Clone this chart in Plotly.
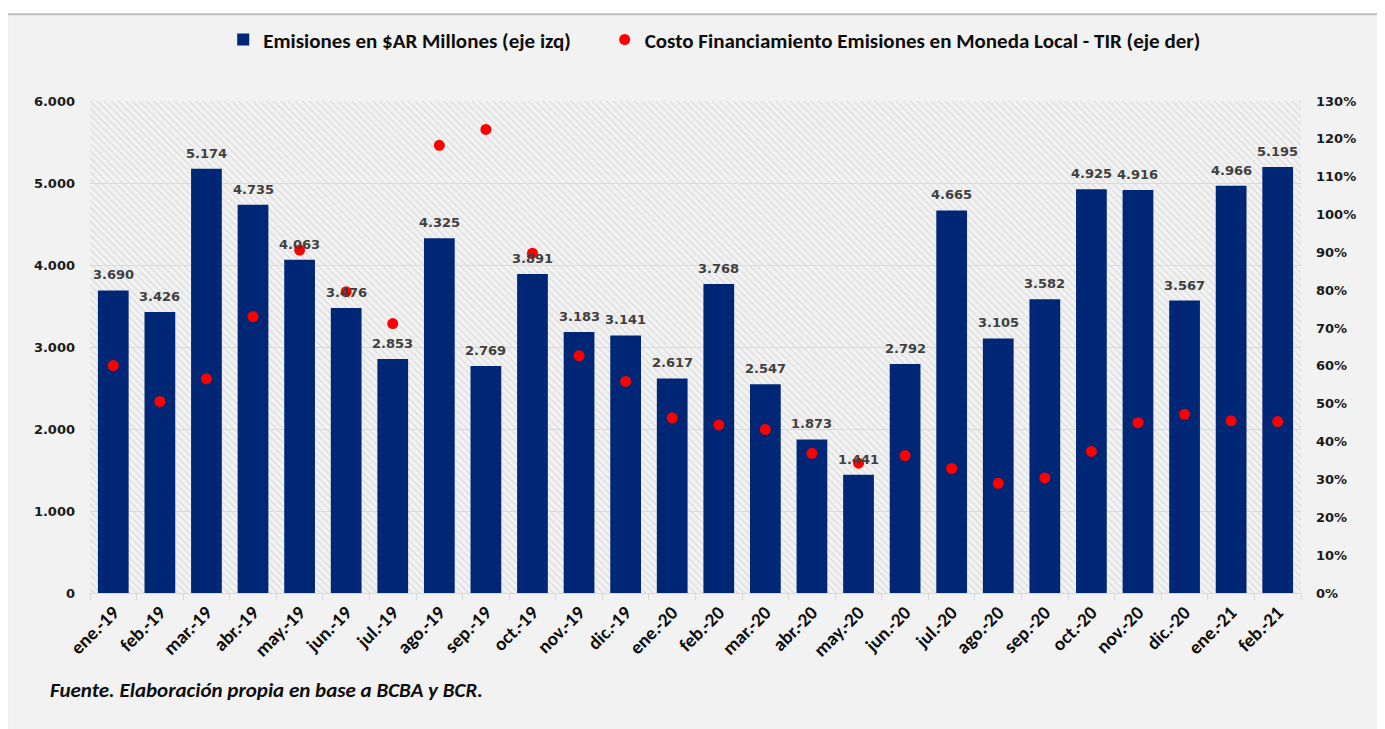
import plotly.graph_objects as go

# ---------------- data ----------------
months = ["ene.-19", "feb.-19", "mar.-19", "abr.-19", "may.-19", "jun.-19", "jul.-19",
          "ago.-19", "sep.-19", "oct.-19", "nov.-19", "dic.-19", "ene.-20", "feb.-20",
          "mar.-20", "abr.-20", "may.-20", "jun.-20", "jul.-20", "ago.-20", "sep.-20",
          "oct.-20", "nov.-20", "dic.-20", "ene.-21", "feb.-21"]
emisiones = [3690, 3426, 5174, 4735, 4063, 3476, 2853, 4325, 2769, 3891, 3183, 3141, 2617,
             3768, 2547, 1873, 1441, 2792, 4665, 3105, 3582, 4925, 4916, 3567, 4966, 5195]
tir_pct = [60.1, 50.6, 56.6, 73.0, 90.6, 79.6, 71.2, 118.3, 122.5, 89.8, 62.7, 55.9, 46.3,
           44.4, 43.2, 36.9, 34.3, 36.3, 32.9, 29.0, 30.4, 37.4, 45.0, 47.2, 45.5, 45.3]
left_ticks = [0, 1000, 2000, 3000, 4000, 5000, 6000]
left_ticktext = ["0", "1.000", "2.000", "3.000", "4.000", "5.000", "6.000"]
right_ticks = [i / 100 for i in range(0, 131, 10)]

name_bar = "Emisiones en $AR Millones (eje izq)"
name_dot = "Costo Financiamiento Emisiones en Moneda Local - TIR (eje der)"
footnote = "Fuente. Elaboración propia en base a BCBA y BCR."

# ---------------- styles ----------------
NAVY = "#002776"
RED = "#FF0000"
CAL = "Carlito, 'Liberation Sans Narrow', 'Open Sans', sans-serif"
VER = "'DejaVu Sans', Verdana, sans-serif"

n = len(months)
xs = list(range(n))
tir = [v / 100 for v in tir_pct]
labels = [f"{v:,}".replace(",", ".") for v in emisiones]

fig = go.Figure()

# hatched plot-area background (as a full-width bar)
fig.add_trace(go.Bar(
    x=[(n - 1) / 2], y=[left_ticks[-1]], width=[n],
    marker=dict(color="rgba(0,0,0,0)", line=dict(width=0),
                pattern=dict(shape="\\", fillmode="replace", fgcolor="#dcdcdc",
                             bgcolor="rgba(0,0,0,0)", size=5, solidity=0.25)),
    showlegend=False, hoverinfo="skip",
))

fig.add_trace(go.Bar(
    x=xs, y=emisiones, width=0.66, name=name_bar, legend="legend",
    marker=dict(color=NAVY, line=dict(width=0)),
))

fig.add_trace(go.Scatter(
    x=xs, y=tir, yaxis="y2", mode="markers", name=name_dot, legend="legend2",
    marker=dict(color=RED, size=11, symbol="circle"),
    cliponaxis=False,
))

# value labels above the bars
annotations = [dict(x=x, y=v, xref="x", yref="y", text=t, showarrow=False,
                    yanchor="bottom", yshift=6,
                    font=dict(family=VER, size=13, color="#404040", weight="bold"))
               for x, v, t in zip(xs, emisiones, labels)]

annotations.append(dict(text=footnote, xref="paper", yref="paper", x=-0.0347, y=-0.1968,
                        xanchor="left", yanchor="middle", showarrow=False,
                        font=dict(family=CAL, size=21, color="#0d0d0d", weight="bold",
                                  style="italic")))

leg_font = dict(family=CAL, size=21, color="#0d0d0d", weight="bold")

fig.update_layout(
    width=1377, height=721,
    margin=dict(l=82, r=84, t=92, b=136),
    paper_bgcolor="white",
    plot_bgcolor="#fafafa",
    barmode="overlay",
    showlegend=True,
    legend=dict(orientation="h", x=0.11, xanchor="left", y=1.122, yanchor="middle",
                font=leg_font, bgcolor="rgba(0,0,0,0)"),
    legend2=dict(orientation="h", x=0.425, xanchor="left", y=1.122, yanchor="middle",
                 font=leg_font, bgcolor="rgba(0,0,0,0)"),
    xaxis=dict(range=[-0.5, n - 0.5], tickmode="array", tickvals=xs, ticktext=months,
               tickangle=-45, ticks="", showgrid=False, zeroline=False, automargin=False,
               showline=True, linecolor="#d9d9d9", linewidth=1,
               tickfont=dict(family=CAL, size=19, color="#0d0d0d", weight="bold"),
               minor=dict(tickvals=[i - 0.5 for i in range(n + 1)], ticks="outside",
                          ticklen=6, tickcolor="#d9d9d9", tickwidth=1, showgrid=False)),
    yaxis=dict(range=[0, 6000], tickmode="array", tickvals=left_ticks, ticktext=left_ticktext,
               showgrid=True, gridcolor="#d9d9d9", gridwidth=1, zeroline=False,
               ticks="", ticklabelstandoff=14, automargin=False,
               tickfont=dict(family=VER, size=13, color="#1a1a1a", weight="bold")),
    yaxis2=dict(range=[0, 1.3], overlaying="y", side="right", tickmode="array",
                tickvals=right_ticks, tickformat=".0%", showgrid=False, zeroline=False,
                ticks="", ticklabelstandoff=14, automargin=False,
                tickfont=dict(family=VER, size=13, color="#1a1a1a", weight="bold")),
    shapes=[dict(type="rect", xref="paper", yref="paper", layer="below",
                 x0=-0.0685, x1=1.09, y0=-0.32, y1=1.1765,
                 fillcolor="#f2f2f2", line=dict(color="#c0c0c0", width=2))],
    annotations=annotations,
)

fig.write_html("out.html")
